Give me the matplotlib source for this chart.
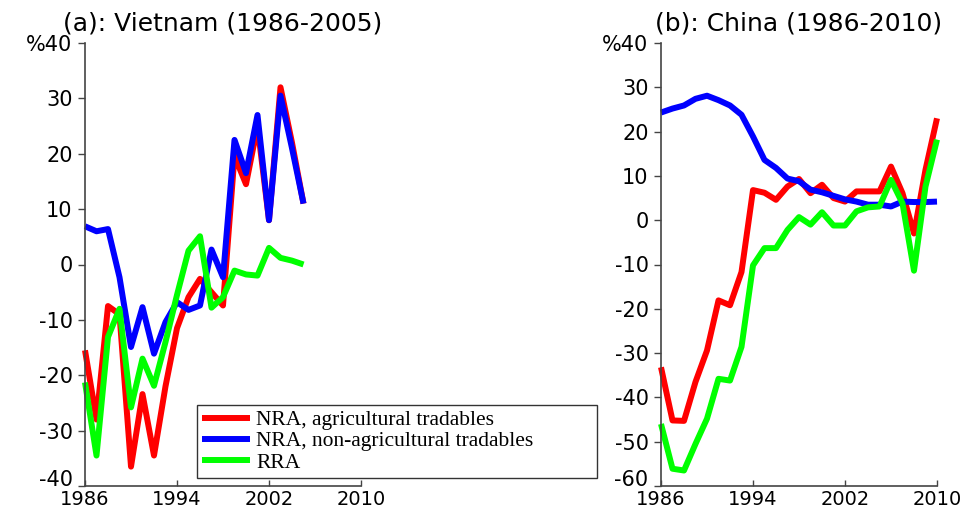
import matplotlib
matplotlib.use("Agg")
import matplotlib.pyplot as plt
import matplotlib.transforms as mtransforms

# Vietnam 1986-2005
vn_years = list(range(1986, 2006))
vn_nra_ag = [-15.5, -28, -7.5, -9, -36.5, -23.4, -34.5, -22, -11.5, -5.9, -2.6,
             -5, -7.4, 19.6, 14.5, 25, 8, 32, 22, 11]
vn_nra_nonag = [6.9, 6.0, 6.4, -2.3, -14.9, -7.7, -16.1, -10.4, -6.8, -8.2, -7.4,
                2.7, -2.3, 22.5, 16.5, 27, 8, 30.5, 21, 11]
vn_rra = [-21.3, -34.5, -13.1, -8.0, -25.8, -17.0, -21.9, -14, -5.5, 2.5, 5.1,
          -7.8, -5.9, -1.1, -1.8, -2.0, 3.0, 1.2, 0.7, 0.0]

# China 1986-2010
cn_years = list(range(1986, 2011))
cn_nra_ag = [-33.2, -45.2, -45.3, -36.5, -29.4, -18.1, -19.2, -11.7, 6.8, 6.2, 4.6,
             7.6, 9.3, 6.1, 8.0, 5.0, 4.2, 6.5, 6.5, 6.5, 12.1, 6.1, -3, 11.4, 23]
cn_nra_nonag = [24.3, 25.2, 25.9, 27.4, 28.1, 27.1, 25.9, 23.8, 18.9, 13.6, 11.8,
                9.4, 8.8, 6.9, 6.3, 5.5, 4.7, 4.2, 3.5, 3.5, 3.1, 4.2, 4.1, 4.1, 4.2]
cn_rra = [-46, -56.1, -56.5, -50.5, -44.8, -35.8, -36.2, -28.6, -10.2, -6.3, -6.3,
          -2.2, 0.7, -1.0, 1.8, -1.2, -1.2, 2.0, 2.9, 3.1, 9.1, 3.8, -11.4, 7.6, 18.2]

labels = ["NRA, agricultural tradables", "NRA, non-agricultural tradables", "RRA"]
colors = ["#ff0000", "#0000ff", "#00ff00"]
x_ticks = [1986, 1994, 2002, 2010]

fig = plt.figure(figsize=(9.74, 5.13), dpi=100)
W, H = 974, 513


def make_axes(left_px, title, yticks):
    ax = fig.add_axes([left_px / W, (H - 486) / H, 276 / W, 443 / H])
    ax.set_xlim(1986, 2010)
    ax.set_ylim(yticks[0], yticks[-1])
    for s in ["top", "right"]:
        ax.spines[s].set_visible(False)
    for s in ["left", "bottom"]:
        ax.spines[s].set_color("#444444")
        ax.spines[s].set_linewidth(1.2)
    ax.set_xticks(x_ticks)
    ax.set_xticklabels([str(t) for t in x_ticks])
    ax.set_yticks(yticks)
    ylabs = [str(t) for t in yticks]
    ylabs[-1] = "%" + ylabs[-1]
    ax.set_yticklabels(ylabs)
    ax.tick_params(axis="x", direction="in", length=4, width=1, pad=3,
                   labelsize=14, color="#444444")
    ax.tick_params(axis="y", direction="out", length=5, width=1, pad=4,
                   labelsize=15, color="#444444")
    # nudge the lowest y label up a little so it doesn't sit on the year label
    low = ax.get_yticklabels()[0]
    low.set_transform(low.get_transform() +
                      mtransforms.ScaledTranslation(0, 6 / 72, fig.dpi_scale_trans))
    ax.set_title(title, fontsize=18, pad=9)
    return ax


ax1 = make_axes(85, "(a): Vietnam (1986-2005)", list(range(-40, 41, 10)))
for vals, c, lab in zip([vn_nra_ag, vn_nra_nonag, vn_rra], colors, labels):
    ax1.plot(vn_years, vals, color=c, lw=4.3, label=lab,
             solid_joinstyle="round", solid_capstyle="butt", clip_on=False)

ax2 = make_axes(661, "(b): China (1986-2010)", list(range(-60, 41, 10)))
for vals, c in zip([cn_nra_ag, cn_nra_nonag, cn_rra], colors):
    ax2.plot(cn_years, vals, color=c, lw=4.3,
             solid_joinstyle="round", solid_capstyle="butt", clip_on=False)

leg = fig.legend(*ax1.get_legend_handles_labels(),
                 loc="lower left",
                 bbox_to_anchor=(197 / W, (H - 478) / H, 400 / W, 66 / H),
                 mode="expand", borderaxespad=0,
                 prop={"family": "Liberation Serif", "size": 15.5},
                 frameon=True, fancybox=False, edgecolor="black",
                 handlelength=2.2, handletextpad=0.3, labelspacing=0.05,
                 borderpad=0.25)
leg.get_frame().set_linewidth(1.0)

fig.savefig("out.png", dpi=100)
